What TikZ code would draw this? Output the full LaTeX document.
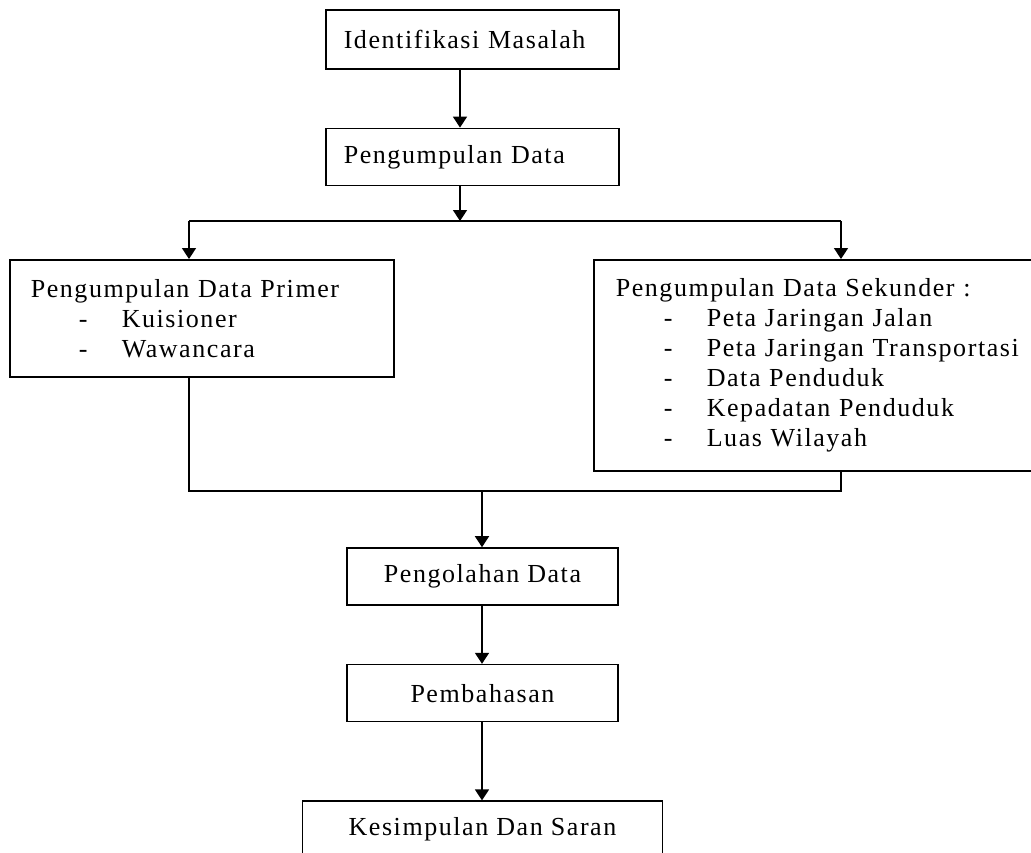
\documentclass[tikz,border=0pt]{standalone}
\usepackage{fontspec}
\setmainfont{Liberation Serif}[LetterSpace=6]
\usetikzlibrary{arrows.meta, positioning}

\newcommand{\butir}[1]{\hspace*{48pt}\makebox[43pt][l]{-}#1}

\begin{document}
\begin{tikzpicture}[
    x=1pt, y=1pt,
    >={Triangle[width=14pt, length=11pt]}, line width=1.6pt,
    font=\fontsize{26}{30}\selectfont,
    proses/.style={
      draw, minimum width=271pt, minimum height=57pt,
      inner sep=0pt, align=center},
    proseskiri/.style={
      draw, anchor=north west, text width=257pt,
      inner xsep=18pt, inner ysep=0pt,
      minimum height=57pt, align=left},
    rincian/.style={
      draw, anchor=north west,
      inner ysep=0pt, align=left},
]

\clip (0,0) rectangle (1031,-852);

\node[proseskiri, minimum height=59pt] (idm) at (325,-9) {Identifikasi Masalah};
\node[proseskiri, anchor=north, below=58pt of idm] (kumpul) {Pengumpulan Data};

\node[rincian, text width=342pt, inner xsep=21pt, minimum height=117pt]
  (primer) at (9,-259) {Pengumpulan Data Primer\\
  \butir{Kuisioner}\\
  \butir{Wawancara}};
\node[rincian, text width=420pt, inner xsep=22pt, minimum height=211pt]
  (sekunder) at (593,-259) {Pengumpulan Data Sekunder :\\
  \butir{Peta Jaringan Jalan}\\
  \butir{Peta Jaringan Transportasi}\\
  \butir{Data Penduduk}\\
  \butir{Kepadatan Penduduk}\\
  \butir{Luas Wilayah}};

\node[proses] (olah) at (482.5,-576.5) {Pengolahan Data};
\node[proses, below=58pt of olah] (bahas) {Pembahasan};
\node[proses, minimum width=360pt, below=78pt of bahas] (simpul) {Kesimpulan Dan Saran};

% ---- titik bantu ----
\coordinate (atas)   at (460,-183);
\coordinate (bagi)   at (460,-221);
\coordinate (kiri)   at (189,-221);
\coordinate (kanan)  at (841,-221);
\coordinate (gabung) at (482,-491);

% ---- alur atas ----
\draw[->] (idm.south -| atas) -- (kumpul.north -| atas);
\draw[->] (kumpul.south -| atas) -- (bagi);
\draw (kiri) -- (kanan);
\draw[->] (kiri) -- (primer.north -| kiri);
\draw[->] (kanan) -- (sekunder.north -| kanan);

% ---- penggabungan ----
\draw (primer.south -| kiri) |- (gabung);
\draw (sekunder.south -| kanan) |- (gabung);
\draw[->] (gabung) -- (olah.north -| gabung);

% ---- alur bawah ----
\draw[->] (olah.south -| gabung) -- (bahas.north -| gabung);
\draw[->] (bahas.south -| gabung) -- (simpul.north -| gabung);

\end{tikzpicture}
\end{document}
